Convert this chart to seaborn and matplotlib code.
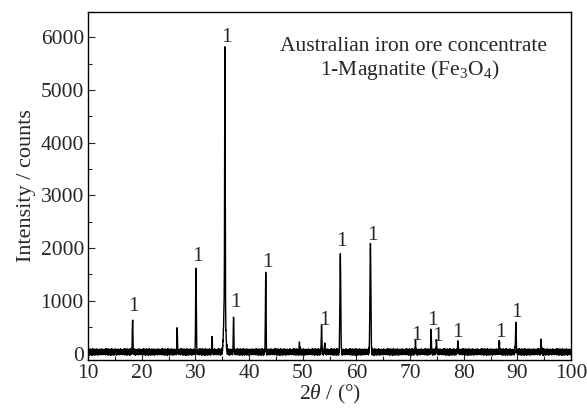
import numpy as np
import pandas as pd
import matplotlib
matplotlib.use("Agg")
import matplotlib.pyplot as plt
import seaborn as sns
from matplotlib.ticker import MultipleLocator

# Peak positions (2theta, deg) and heights (counts)
peak_pos = [18.3, 26.6, 30.1, 33.1, 35.5, 35.45, 37.1, 43.1, 49.4, 53.5, 54.1, 57.0, 62.6,
            71.0, 73.9, 74.9, 78.9, 86.6, 89.7, 94.4]
peak_height = [620, 500, 1630, 310, 4700, 1100, 700, 1500, 140, 470, 170, 1820, 2060,
               190, 400, 210, 200, 200, 540, 200]
peak_width = [0.12, 0.10, 0.14, 0.12, 0.12, 0.40, 0.12, 0.14, 0.12, 0.14, 0.12, 0.18, 0.20,
              0.12, 0.14, 0.12, 0.12, 0.14, 0.16, 0.14]
# Peaks marked "1" (magnetite) and their label positions
label_x = [18.4, 30.3, 35.8, 37.4, 43.4, 54.1, 57.2, 62.9, 71.1, 74.2, 75.1, 78.9, 86.8, 89.9]
label_y = [890, 1840, 6000, 970, 1730, 630, 2130, 2240, 340, 630, 320, 400, 400, 780]
# Background noise pattern (counts) read from the baseline
noise = [40, 10, 65, -20, 30, 85, 5, 50, -30, 20, 70, 35, -10, 60, 15, 90, 25, -25, 45, 0,
         75, 30, -15, 55, 10, 80, -5, 40, 60, 20, -35, 50, 5, 70, 30, 95, 15, -20, 45, 25,
         65, -10, 35, 80, 0, 50, 20, -30, 70, 40, 10, 55, -15, 85, 30, 5, 60, 45, -25, 25,
         75, 15, 50, -5, 40, 90, 20, -20, 55, 35, 0, 65, 10, 45, -30, 80, 25, 60, 5, 40,
         -10, 70, 30, 50, -20, 15, 85, 35, 0, 55, 20, 75, -15, 45, 10, 65, 30, -25, 60, 40,
         5, 50, 90, 15, -10, 35, 70, 25, 55, -5, 45, 80, 10, 30, -20, 60, 20, 40, 75, 0,
         35, -15, 65, 20, 50, -5, 85, 10, 40, 70, -25, 30, 55, 15, 95, 25, -10, 60, 45, 5]

x = np.arange(10.0, 100.0, 0.025)
y = np.array([noise[i % len(noise)] for i in range(len(x))], dtype=float)
for p, h, w in zip(peak_pos, peak_height, peak_width):
    y += h * np.exp(-0.5 * ((x - p) / (w / 2.3548)) ** 2)
df = pd.DataFrame({"two_theta": x, "intensity": y})

sns.set_style("ticks")
plt.rcParams["font.family"] = ["Liberation Serif", "DejaVu Serif"]
plt.rcParams["mathtext.fontset"] = "custom"
plt.rcParams["mathtext.rm"] = "Liberation Serif"
plt.rcParams["mathtext.it"] = "Liberation Serif:italic"

FS = 15.5

fig, ax = plt.subplots(figsize=(5.87, 4.09), dpi=100)
fig.subplots_adjust(left=0.150, right=0.973, bottom=0.120, top=0.971)

sns.lineplot(data=df, x="two_theta", y="intensity", ax=ax, color="black",
             linewidth=1.0, estimator=None, sort=False)

for lx, ly in zip(label_x, label_y):
    ax.text(lx, ly, "1", ha="center", va="center", fontsize=FS)

ax.text(0.674, 0.90, "Australian iron ore concentrate", transform=ax.transAxes,
        ha="center", va="center", fontsize=FS)
ax.text(0.665, 0.833, "1-Magnatite (Fe$_\\mathrm{3}$O$_\\mathrm{4}$)", transform=ax.transAxes,
        ha="center", va="center", fontsize=FS)

ax.set_xlim(10, 100)
ax.set_ylim(-120, 6480)
ax.xaxis.set_major_locator(MultipleLocator(10))
ax.xaxis.set_minor_locator(MultipleLocator(5))
ax.yaxis.set_major_locator(MultipleLocator(1000))
ax.yaxis.set_minor_locator(MultipleLocator(500))
ax.tick_params(which="both", direction="in", labelsize=FS, top=False, right=False, pad=3)
ax.tick_params(which="major", length=5, width=0.8)
ax.tick_params(which="minor", length=3, width=0.8)
for s in ax.spines.values():
    s.set_visible(True)
    s.set_linewidth(1.0)
    s.set_color("black")

ax.set_xlabel("2$\\mathit{\\theta}$ / (°)", fontsize=FS, labelpad=0)
ax.set_ylabel("Intensity / counts", fontsize=FS + 0.5, labelpad=3)

fig.savefig("out.png", dpi=100)
